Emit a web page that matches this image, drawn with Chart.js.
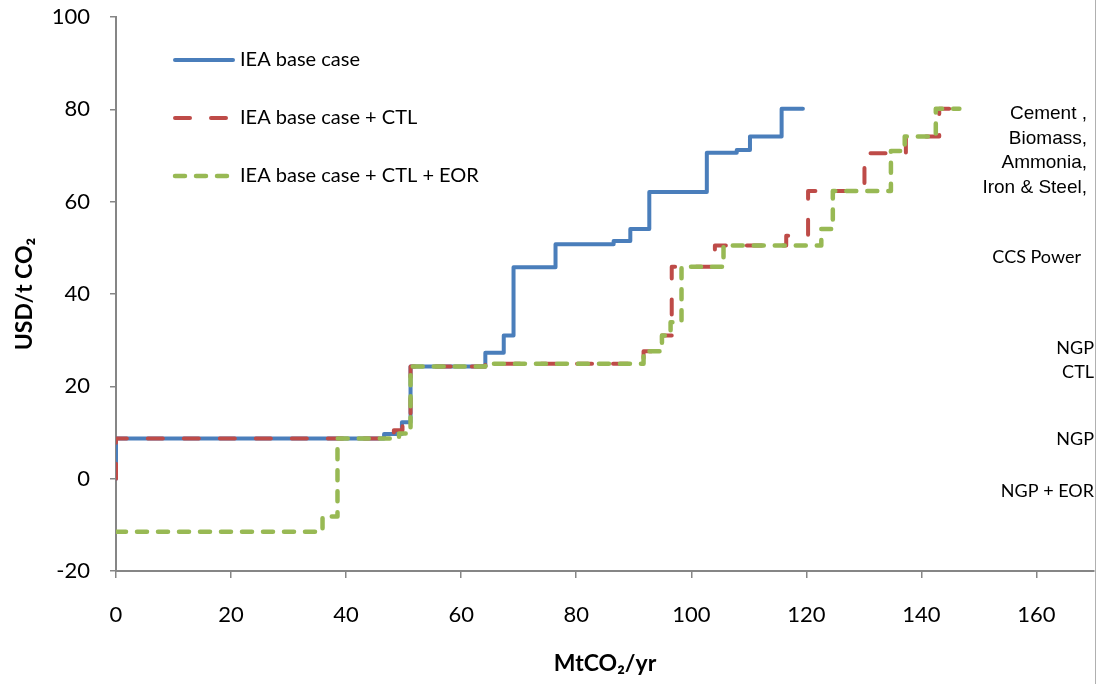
<!DOCTYPE html>
<html>
<head>
<meta charset="utf-8">
<script src="https://cdn.jsdelivr.net/npm/chart.js@4.4.0/dist/chart.umd.min.js"></script>
<style>
  html, body { margin: 0; padding: 0; background: #fff; }
  #wrap { width: 1097px; height: 684px; position: relative; }
</style>
</head>
<body>
<div id="wrap"><canvas id="mac" width="1097" height="684"></canvas></div>
<script>
// series labels
const seriesNames = ['IEA base case', 'IEA base case + CTL', 'IEA base case + CTL + EOR'];

// step points (value holds from each x until the next x)
const baseX = [0, 0, 46.6, 49.7, 51.2, 64.2, 67.4, 69.1, 76.4, 86.5, 89.4, 92.7, 102.7, 107.9, 110.2, 115.7, 119.4];
const baseY = [0, 8.7, 9.7, 12.2, 24.3, 27.3, 31, 45.8, 50.8, 51.5, 54.1, 62.1, 70.6, 71.2, 74.1, 80.1, 80.1];

const ctlX = [0, 0, 48.3, 49.8, 51.2, 64.2, 91.7, 94.9, 96.6, 104.1, 116.5, 120.3, 130.1, 137.3, 143.1, 146.6];
const ctlY = [0, 8.7, 10.5, 12.2, 24.3, 24.9, 27.6, 31, 45.9, 50.5, 52.6, 62.3, 70.5, 74.1, 80.1, 80.1];

const eorX = [0, 35.9, 38.5, 49.2, 51.2, 64.2, 91.7, 94.9, 96.4, 98.3, 105.6, 122.6, 124.6, 134.7, 137.1, 142.5, 146.6];
const eorY = [-11.5, -8.2, 8.7, 9.8, 24.3, 24.9, 27.6, 31, 33.9, 45.9, 50.5, 54.1, 62.3, 71, 74.1, 80.1, 80.1];

const xTicks = [0, 20, 40, 60, 80, 100, 120, 140, 160];
const yTicks = [-20, 0, 20, 40, 60, 80, 100];

// sector notes on the right
const noteGroup = ['Cement ,', 'Biomass,', 'Ammonia,', 'Iron & Steel,'];
const noteLines = ['CCS Power', 'NGP', 'CTL', 'NGP', 'NGP + EOR'];

const toPoints = (xs, ys) => xs.map((x, i) => ({ x: x, y: ys[i] }));

const BLUE = '#4a7ebb';
const RED = '#be4b48';
const GREEN = '#98b954';
const AXIS = '#868686';

const calibri = "Lato, 'Open Sans', sans-serif";

// legend drawn inside the plot area, top left
const insideLegend = {
  id: 'insideLegend',
  afterDatasetsDraw(chart) {
    const ctx = chart.ctx;
    const rowsY = [60, 118, 176];
    ctx.save();
    chart.data.datasets.forEach((ds, i) => {
      const y = rowsY[i];
      ctx.beginPath();
      ctx.strokeStyle = ds.borderColor;
      ctx.lineWidth = ds.borderWidth;
      ctx.lineCap = 'round';
      ctx.setLineDash(ds.borderDash || []);
      ctx.moveTo(175, y);
      ctx.lineTo(233, y);
      ctx.stroke();
      ctx.setLineDash([]);
      ctx.fillStyle = '#000';
      ctx.font = '20px ' + calibri;
      ctx.textBaseline = 'middle';
      ctx.textAlign = 'left';
      ctx.fillText(ds.label, 240, y);
    });
    ctx.restore();
  }
};

// right-hand sector labels + frame edge
const sideNotes = {
  id: 'sideNotes',
  afterDraw(chart) {
    const ctx = chart.ctx;
    ctx.save();
    ctx.fillStyle = '#000';
    ctx.textBaseline = 'middle';
    ctx.textAlign = 'right';
    ctx.font = "19px 'Liberation Sans', Arial, sans-serif";
    noteGroup.forEach((t, i) => ctx.fillText(t, 1087, 114 + i * 24.5));
    ctx.font = '18px ' + calibri;
    const pos = [[1081, 257], [1094, 348], [1094, 372], [1094, 439], [1094, 491]];
    noteLines.forEach((t, i) => ctx.fillText(t, pos[i][0], pos[i][1]));
    ctx.strokeStyle = '#b0b0b0';
    ctx.lineWidth = 1;
    ctx.beginPath();
    ctx.moveTo(1095.5, 0);
    ctx.lineTo(1095.5, 684);
    ctx.stroke();
    ctx.restore();
  }
};

const ctx = document.getElementById('mac').getContext('2d');

new Chart(ctx, {
  type: 'line',
  data: {
    datasets: [
      {
        label: seriesNames[0],
        data: toPoints(baseX, baseY),
        borderColor: BLUE,
        borderWidth: 4,
        order: 3
      },
      {
        label: seriesNames[1],
        data: toPoints(ctlX, ctlY),
        borderColor: RED,
        borderWidth: 4,
        borderDash: [15, 21],
        order: 2
      },
      {
        label: seriesNames[2],
        data: toPoints(eorX, eorY),
        borderColor: GREEN,
        borderWidth: 4.5,
        borderDash: [10, 11],
        order: 1
      }
    ]
  },
  options: {
    responsive: false,
    animation: false,
    layout: { padding: { top: 17, right: 3, left: 0, bottom: 0 } },
    elements: {
      point: { radius: 0 },
      // horizontal first, then the vertical jump at the next x
      line: { stepped: 'before', borderCapStyle: 'round', borderJoinStyle: 'round', fill: false }
    },
    plugins: {
      legend: { display: false },
      tooltip: { enabled: false }
    },
    scales: {
      x: {
        type: 'linear',
        min: 0,
        max: 170,
        afterBuildTicks: (scale) => { scale.ticks = xTicks.map(v => ({ value: v })); },
        afterFit: (scale) => {
          scale.height = 113;
          scale.paddingLeft = 0;
          scale.paddingRight = 0;
        },
        grid: { display: true, drawOnChartArea: false, drawTicks: true, tickLength: 7, color: AXIS, lineWidth: 1.5 },
        border: { display: true, color: AXIS, width: 2 },
        ticks: { color: '#000', padding: 24, font: { family: calibri, size: 22 }, maxRotation: 0 },
        title: {
          display: true,
          text: 'MtCO₂/yr',
          color: '#000',
          font: { family: calibri, size: 23, weight: 'bold' },
          padding: { top: 0, bottom: 7 }
        }
      },
      y: {
        type: 'linear',
        min: -20,
        max: 100,
        afterBuildTicks: (scale) => { scale.ticks = yTicks.map(v => ({ value: v })); },
        afterFit: (scale) => {
          scale.width = 116;
          scale.paddingTop = 0;
          scale.paddingBottom = 0;
        },
        grid: { display: true, drawOnChartArea: false, drawTicks: true, tickLength: 6, color: AXIS, lineWidth: 1.5 },
        border: { display: true, color: AXIS, width: 2 },
        ticks: { color: '#000', padding: 20, font: { family: calibri, size: 22 } },
        title: {
          display: true,
          text: 'USD/t CO₂',
          color: '#000',
          font: { family: calibri, size: 23, weight: 'bold' },
          padding: { top: 11, bottom: 0 }
        }
      }
    }
  },
  plugins: [insideLegend, sideNotes]
});
</script>
</body>
</html>
